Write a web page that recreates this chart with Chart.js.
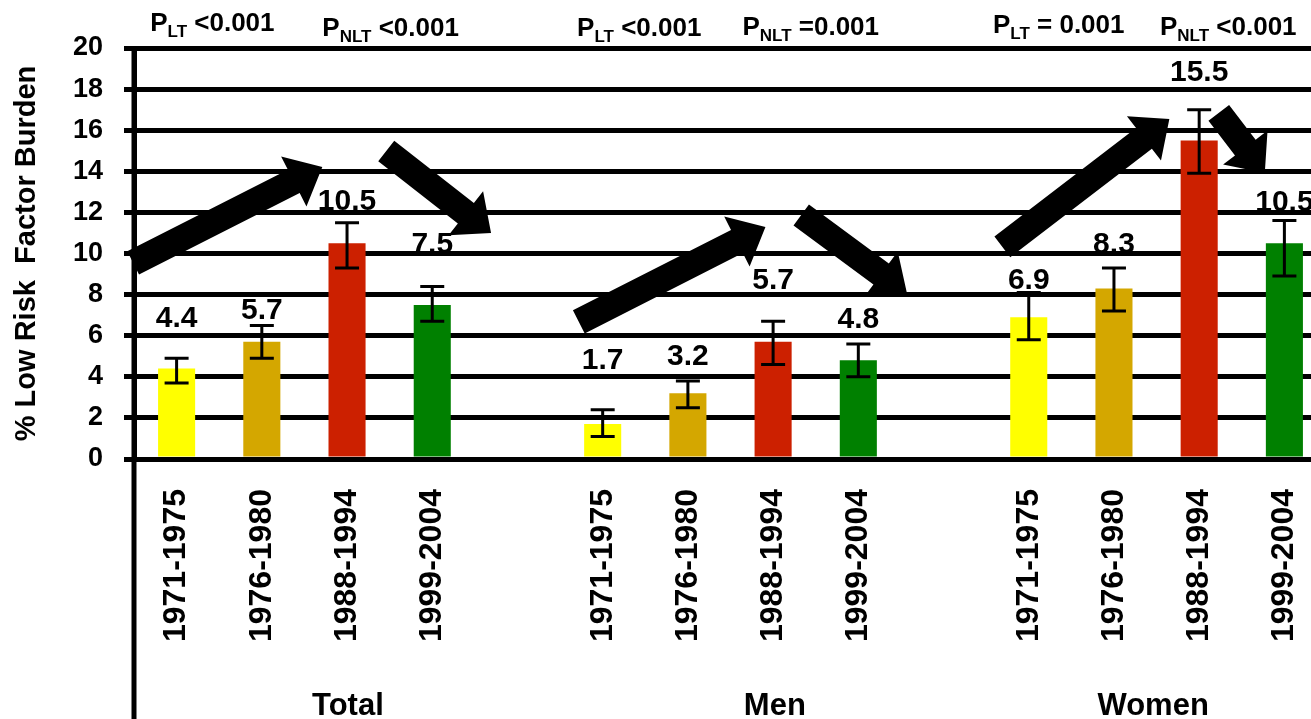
<!DOCTYPE html>
<html>
<head>
<meta charset="utf-8">
<script src="https://cdn.jsdelivr.net/npm/chart.js@4.4.1/dist/chart.umd.min.js"></script>
<style>
html, body { margin: 0; padding: 0; overflow: hidden; background: #fff; }
#wrap { width: 1327px; height: 719px; }
</style>
</head>
<body>
<div id="wrap"><canvas id="chart" width="1327" height="719"></canvas></div>
<script>
// periods shown inside every group
const periods = ['1971-1975', '1976-1980', '1988-1994', '1999-2004']
const groups = ['Total', 'Men', 'Women']

// % low risk factor burden
const totalVals = [4.4, 5.7, 10.5, 7.5]
const menVals = [1.7, 3.2, 5.7, 4.8]
const womenVals = [6.9, 8.3, 15.5, 10.5]

// ends of the error bars
const totalLow = [3.7, 4.9, 9.3, 6.7]
const totalHigh = [4.9, 6.5, 11.5, 8.4]
const menLow = [1.1, 2.5, 4.6, 4.0]
const menHigh = [2.4, 3.8, 6.7, 5.6]
const womenLow = [5.8, 7.2, 13.9, 8.9]
const womenHigh = [8.1, 9.3, 17.0, 11.6]

// trend tests printed over each group
const pLinear = ['<0.001', '<0.001', '= 0.001']
const pNonLinear = ['<0.001', '=0.001', '<0.001']

const yTicks = [0, 2, 4, 6, 8, 10, 12, 14, 16, 18, 20]

const periodColors = ['#FFFF00', '#D4A700', '#CC2000', '#008000']
const FONT = '"Liberation Sans", Arial, sans-serif'

// one slot per bar, an empty slot between groups
const allVals = [totalVals, menVals, womenVals]
const allLow = [totalLow, menLow, womenLow]
const allHigh = [totalHigh, menHigh, womenHigh]
const labels = [], values = [], lows = [], highs = [], colors = []
groups.forEach((g, gi) => {
    periods.forEach((p, pi) => {
        labels.push(p)
        values.push(allVals[gi][pi])
        lows.push(allLow[gi][pi])
        highs.push(allHigh[gi][pi])
        colors.push(periodColors[pi])
    })
    if (gi < groups.length - 1) {
        labels.push(''); values.push(null); lows.push(null); highs.push(null); colors.push('#fff')
    }
})

// decorations, in slot / axis units
const arrows = [
    [-0.51, 9.54, 1.71, 14.21],
    [2.46, 14.99, 3.69, 11.0],
    [4.72, 6.67, 6.91, 11.29],
    [7.33, 11.87, 8.57, 8.08],
    [9.69, 10.32, 11.65, 16.55],
    [12.23, 16.84, 12.77, 13.92]
]
const labelLift = [40, 15, 21, 42, 0, 49, 24, 41, 24, 0, 12, 23, 37, 18]
const pAt = [[-0.31, 20.83, 1.71, 20.58], [4.70, 20.58, 6.64, 20.63], [9.58, 20.73, 11.54, 20.63]]
const groupAt = [2.01, 7.02, 11.46]

const drawArrow = (ctx, x1, y1, x2, y2) => {
    const len = Math.hypot(x2 - x1, y2 - y1)
    const ux = (x2 - x1) / len, uy = (y2 - y1) / len
    const nx = -uy, ny = ux
    const sw = 13, hw = 28, hl = 32
    const bx = x2 - ux * hl, by = y2 - uy * hl
    ctx.beginPath()
    ctx.moveTo(x1 + nx * sw, y1 + ny * sw)
    ctx.lineTo(bx + nx * sw, by + ny * sw)
    ctx.lineTo(bx + nx * hw, by + ny * hw)
    ctx.lineTo(x2, y2)
    ctx.lineTo(bx - nx * hw, by - ny * hw)
    ctx.lineTo(bx - nx * sw, by - ny * sw)
    ctx.lineTo(x1 - nx * sw, y1 - ny * sw)
    ctx.closePath()
    ctx.fill()
}

const drawP = (ctx, x, y, sub, txt) => {
    ctx.textAlign = 'left'
    ctx.textBaseline = 'alphabetic'
    ctx.font = 'bold 26px ' + FONT
    ctx.fillText('P', x, y)
    x += ctx.measureText('P').width
    ctx.font = 'bold 17px ' + FONT
    ctx.fillText(sub, x, y + 6)
    x += ctx.measureText(sub).width
    ctx.font = 'bold 26px ' + FONT
    ctx.fillText(' ' + txt, x, y)
}

const extras = {
    id: 'extras',
    afterDatasetsDraw(chart) {
        const { ctx, chartArea, scales: { x, y } } = chart
        ctx.save()
        ctx.strokeStyle = '#000'
        ctx.fillStyle = '#000'
        // y axis runs on down through the label area
        ctx.lineWidth = 5
        ctx.beginPath()
        ctx.moveTo(chartArea.left, chartArea.top - 2)
        ctx.lineTo(chartArea.left, chart.height)
        ctx.stroke()

        // error bars
        ctx.lineWidth = 3
        chart.getDatasetMeta(0).data.forEach((bar, i) => {
            if (values[i] == null) return
            const t = y.getPixelForValue(highs[i]), b = y.getPixelForValue(lows[i])
            ctx.beginPath()
            ctx.moveTo(bar.x, t); ctx.lineTo(bar.x, b)
            ctx.moveTo(bar.x - 12, t); ctx.lineTo(bar.x + 12, t)
            ctx.moveTo(bar.x - 12, b); ctx.lineTo(bar.x + 12, b)
            ctx.stroke()
        })

        // trend arrows
        arrows.forEach(a => drawArrow(ctx, x.getPixelForValue(a[0]), y.getPixelForValue(a[1]),
            x.getPixelForValue(a[2]), y.getPixelForValue(a[3])))

        // value labels
        ctx.font = 'bold 30px ' + FONT
        ctx.textAlign = 'center'
        ctx.textBaseline = 'middle'
        chart.getDatasetMeta(0).data.forEach((bar, i) => {
            if (values[i] == null) return
            ctx.fillText(values[i].toFixed(1), bar.x, y.getPixelForValue(highs[i]) - labelLift[i])
        })

        // p values
        pAt.forEach((p, gi) => {
            drawP(ctx, x.getPixelForValue(p[0]), y.getPixelForValue(p[1]), 'LT', pLinear[gi])
            drawP(ctx, x.getPixelForValue(p[2]), y.getPixelForValue(p[3]), 'NLT', pNonLinear[gi])
        })

        // group names
        ctx.font = 'bold 31px ' + FONT
        ctx.textAlign = 'center'
        ctx.textBaseline = 'alphabetic'
        groups.forEach((g, gi) => ctx.fillText(g, x.getPixelForValue(groupAt[gi]), 715))
        ctx.restore()
    }
}

new Chart('chart', {
    type: 'bar',
    data: {
        labels: labels,
        datasets: [{
            data: values,
            backgroundColor: colors,
            categoryPercentage: 1,
            barPercentage: 0.435
        }]
    },
    options: {
        responsive: false,
        animation: false,
        layout: { padding: { top: 48, left: 0, right: 0, bottom: 0 } },
        plugins: { legend: { display: false }, tooltip: { enabled: false } },
        scales: {
            x: {
                grid: { display: false, drawTicks: false },
                border: { display: false },
                ticks: {
                    autoSkip: false, minRotation: 90, maxRotation: 90,
                    padding: 30, color: '#000',
                    font: { family: FONT, size: 32, weight: 'bold' }
                },
                afterFit: s => { s.height = 260; s.paddingLeft = 0; s.paddingRight = 0 }
            },
            y: {
                min: 0, max: 20,
                afterBuildTicks: s => { s.ticks = yTicks.map(v => ({ value: v })) },
                grid: { color: '#000', lineWidth: 5, tickLength: 10 },
                border: { display: true, color: '#000', width: 5 },
                ticks: { padding: 21, color: '#000', font: { family: FONT, size: 27, weight: 'bold' } },
                title: {
                    display: true, text: '% Low Risk  Factor Burden', color: '#000',
                    padding: { top: 10, bottom: 0 },
                    font: { family: FONT, size: 29, weight: 'bold' }
                },
                afterFit: s => { s.width = 134 }
            }
        }
    },
    plugins: [extras]
})
</script>
</body>
</html>
